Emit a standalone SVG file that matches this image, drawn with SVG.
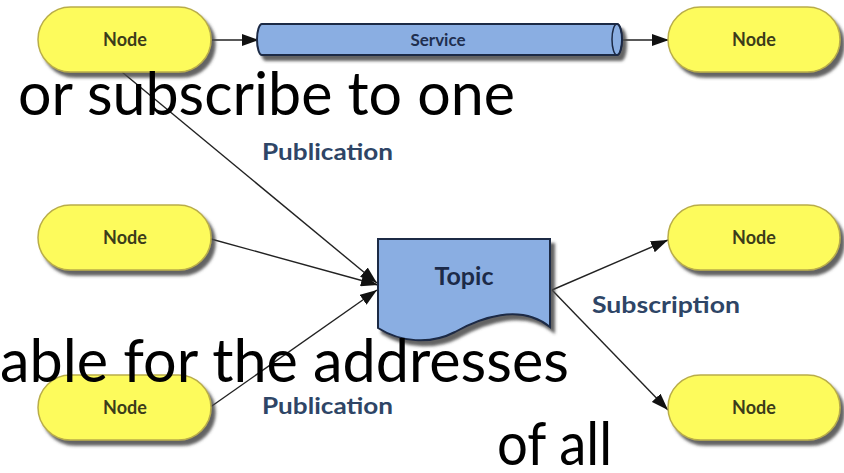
<svg xmlns="http://www.w3.org/2000/svg" width="844" height="473" viewBox="0 0 844 473">
  <defs>
    <filter id="shadow" x="-10%" y="-20%" width="130%" height="150%">
      <feDropShadow dx="4" dy="5" stdDeviation="1.6" flood-color="#4a4a4a" flood-opacity="0.85"/>
    </filter>
    <marker id="arrow" markerUnits="userSpaceOnUse" markerWidth="18" markerHeight="12" refX="17" refY="6" orient="auto">
      <path d="M0,0 L17,6 L0,12 Z" fill="#111"/>
    </marker>
    <style>
      .node rect { fill: #fdfb5c; stroke: #b9ad4a; stroke-width: 1.5; filter: url(#shadow); }
      .node text { font-family: Lato, "Open Sans", sans-serif; font-weight: 700; font-size: 18px; fill: #3c3c1a; text-anchor: middle; }
      .blue { fill: #8aaee2; stroke: #1b2945; stroke-width: 2; }
      .edge { stroke: #222; stroke-width: 1.4; fill: none; marker-end: url(#arrow); }
      .label { font-family: Lato, "Open Sans", sans-serif; font-weight: 700; font-size: 23px; fill: #2e4566; }
      .overlay { font-family: Lato, "Open Sans", sans-serif; font-size: 60px; fill: #000; }
    </style>
  </defs>

  <rect width="844" height="473" fill="#fff"/>

  <!-- connectors -->
  <g id="connectors">
    <line class="edge" x1="212" y1="40" x2="259" y2="40"/>
    <line class="edge" x1="623" y1="40" x2="669" y2="40"/>
    <line class="edge" x1="122" y1="72" x2="377" y2="283"/>
    <line class="edge" x1="211" y1="239" x2="378" y2="285"/>
    <line class="edge" x1="209" y1="408" x2="377" y2="290"/>
    <line class="edge" x1="552" y1="290" x2="668" y2="240"/>
    <line class="edge" x1="552" y1="290" x2="668" y2="410"/>
  </g>

  <!-- service channel -->
  <g id="service">
    <path class="blue" filter="url(#shadow)" d="M262 24 L617 24 A5 15.5 0 0 1 617 55 L262 55 A5 15.5 0 0 1 262 24 Z"/>
    <ellipse cx="617" cy="39.5" rx="5" ry="15.5" fill="none" stroke="#1b2945" stroke-width="1.5"/>
    <text x="438" y="46" font-family="Lato, 'Open Sans', sans-serif" font-weight="700" font-size="17" fill="#1f2f4f" text-anchor="middle">Service</text>
  </g>

  <!-- topic document -->
  <g id="topic">
    <path class="blue" filter="url(#shadow)" d="M378 239 H550 V327 C520 303 480 318 455 332 C430 345 400 342 378 328 Z"/>
    <text x="464" y="285" font-family="Lato, 'Open Sans', sans-serif" font-weight="700" font-size="25" fill="#1c2a48" text-anchor="middle">Topic</text>
  </g>

  <!-- nodes -->
  <g id="node-top-left" class="node">
    <rect x="38" y="7" width="173" height="65" rx="32.5"/>
    <text x="125" y="46">Node</text>
  </g>
  <g id="node-top-right" class="node">
    <rect x="668" y="7" width="172" height="65" rx="32.5"/>
    <text x="754" y="46">Node</text>
  </g>
  <g id="node-mid-left" class="node">
    <rect x="38" y="205" width="173" height="65" rx="32.5"/>
    <text x="125" y="244">Node</text>
  </g>
  <g id="node-mid-right" class="node">
    <rect x="668" y="205" width="172" height="65" rx="32.5"/>
    <text x="754" y="244">Node</text>
  </g>
  <g id="node-bottom-left" class="node">
    <rect x="38" y="375" width="173" height="65" rx="32.5"/>
    <text x="125" y="414">Node</text>
  </g>
  <g id="node-bottom-right" class="node">
    <rect x="668" y="375" width="172" height="65" rx="32.5"/>
    <text x="754" y="414">Node</text>
  </g>

  <!-- edge labels -->
  <g id="labels">
    <text class="label" x="262" y="160" textLength="131" lengthAdjust="spacingAndGlyphs">Publication</text>
    <text class="label" x="262" y="414" textLength="131" lengthAdjust="spacingAndGlyphs">Publication</text>
    <text class="label" x="592" y="313" textLength="148" lengthAdjust="spacingAndGlyphs">Subscription</text>
  </g>

  <!-- caption fragments laid over the figure -->
  <g id="caption">
    <text class="overlay" x="18" y="115" textLength="497" lengthAdjust="spacingAndGlyphs">or subscribe to one</text>
    <text class="overlay" x="0" y="382" textLength="569" lengthAdjust="spacingAndGlyphs">able for the addresses</text>
    <text class="overlay" x="497" y="465" textLength="115" lengthAdjust="spacingAndGlyphs">of all</text>
  </g>
</svg>
